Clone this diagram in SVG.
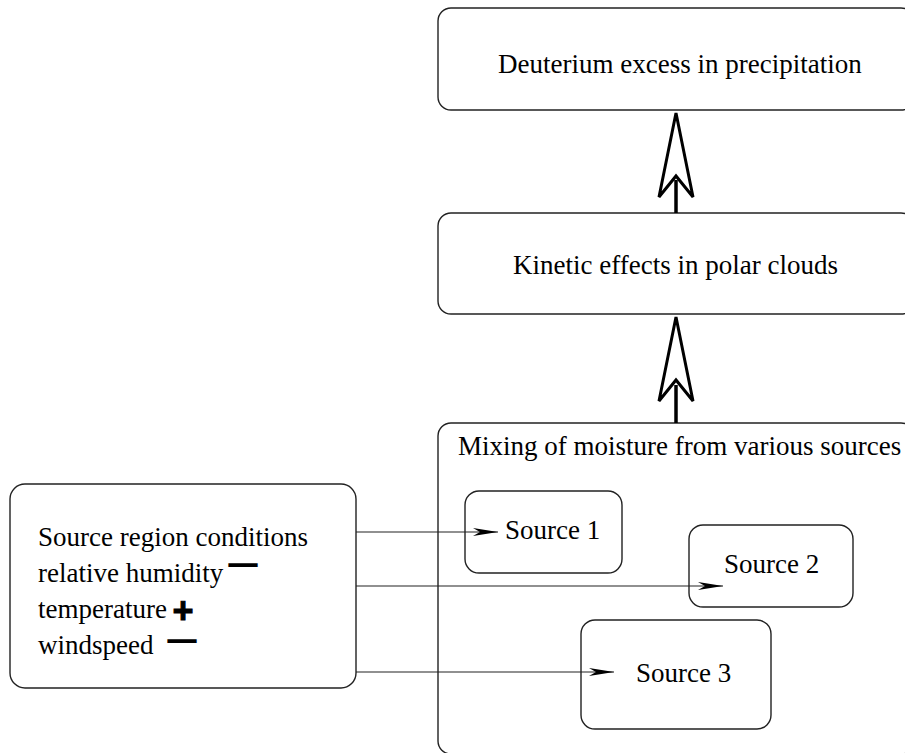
<svg xmlns="http://www.w3.org/2000/svg" width="905" height="753" viewBox="0 0 905 753">
<style>
.box{fill:#fff;stroke:#222;stroke-width:1.4}
.t{font-family:"Liberation Serif","Times New Roman",serif;font-size:27px;fill:#000}
.minus{font-family:"Liberation Sans",Arial,sans-serif;font-weight:bold;font-size:16px;fill:#000;stroke:#000;stroke-width:2}
.plus{font-family:"Liberation Sans",Arial,sans-serif;font-weight:bold;font-size:36px;fill:#000;stroke:#000;stroke-width:1}
.thin{fill:none;stroke:#222;stroke-width:1.2}
.shaft{fill:none;stroke:#000;stroke-width:3.5}
.open{fill:#fff;stroke:#000;stroke-width:3;stroke-linejoin:miter}
</style>
<defs>
<marker id="ah" viewBox="0 0 25 8" refX="25" refY="4" markerWidth="25" markerHeight="8" markerUnits="userSpaceOnUse" orient="auto">
<path d="M0,0 L25,4 L0,8 L7,4 Z" fill="#000"/>
</marker>
</defs>
<g id="deuterium">
<rect class="box" x="438" y="8" width="476" height="102" rx="13"/>
<text class="t" x="498" y="73">Deuterium excess in precipitation</text>
</g>
<g id="kinetic">
<rect class="box" x="438" y="213" width="476" height="101" rx="13"/>
<text class="t" x="513" y="274">Kinetic effects in polar clouds</text>
</g>
<g id="mixing">
<rect class="box" x="438" y="423" width="476" height="331" rx="13"/>
<text class="t" x="458" y="455">Mixing of moisture from various sources</text>
</g>
<g id="source-region">
<rect class="box" x="10" y="484" width="346" height="204" rx="15"/>
<text class="t" x="38" y="546">Source region conditions</text>
<text class="t" x="38" y="582">relative humidity</text>
<text class="t" x="38" y="618">temperature</text>
<text class="t" x="38" y="654">windspeed</text>
<text class="minus" x="230" y="569.5" textLength="26" lengthAdjust="spacingAndGlyphs">—</text>
<text class="plus" x="172.5" y="623">+</text>
<text class="minus" x="169" y="646" textLength="26" lengthAdjust="spacingAndGlyphs">—</text>
</g>
<g id="source1">
<rect class="box" x="465" y="491" width="157" height="82" rx="14"/>
<text class="t" x="505" y="539">Source 1</text>
</g>
<g id="source2">
<rect class="box" x="689" y="525" width="164" height="82" rx="14"/>
<text class="t" x="724" y="573">Source 2</text>
</g>
<g id="source3">
<rect class="box" x="581" y="620" width="190" height="109" rx="14"/>
<text class="t" x="636" y="682">Source 3</text>
</g>
<g id="connectors">
<path class="thin" d="M356,532 H498" marker-end="url(#ah)"/>
<path class="thin" d="M356,586 H723" marker-end="url(#ah)"/>
<path class="thin" d="M356,672 H614" marker-end="url(#ah)"/>
<path class="shaft" d="M676,213 V180"/>
<path class="open" d="M676,113 L693,197 L676,176 L659,197 Z"/>
<path class="shaft" d="M676,423 V385"/>
<path class="open" d="M676,317 L693,401 L676,380 L659,401 Z"/>
</g>
</svg>
